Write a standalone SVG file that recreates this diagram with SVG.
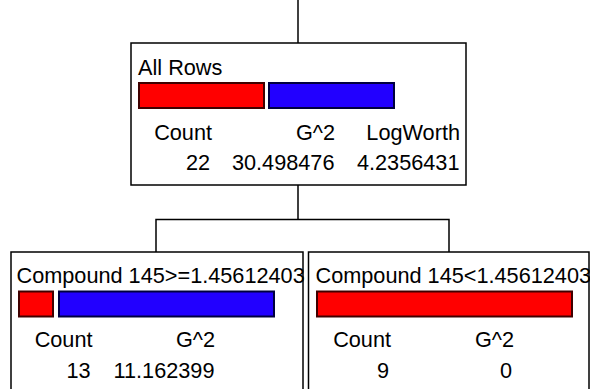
<svg xmlns="http://www.w3.org/2000/svg" width="590" height="389" viewBox="0 0 590 389">
<style>
.box{fill:#fff;stroke:#000;stroke-width:1.5}
.conn{fill:none;stroke:#000;stroke-width:1.5}
.r{fill:#ff0000;stroke:#400000;stroke-width:2}
.b{fill:#2200ff;stroke:#000040;stroke-width:2}
text{font-family:"Liberation Sans",Arial,sans-serif;font-size:21.7px;fill:#000}
.e{text-anchor:end}
</style>
<rect width="590" height="389" fill="#fff"/>
<g id="connectors">
<path class="conn" d="M298,0V43"/>
<path class="conn" d="M298,185V219.5H156V252M298,219.5H449V252"/>
</g>
<g id="root">
<rect class="box" x="131" y="43" width="335" height="142"/>
<text x="138" y="75">All Rows</text>
<rect class="r" x="139" y="83" width="125" height="25"/>
<rect class="b" x="269" y="83" width="125" height="25"/>
<text class="e" x="212" y="140">Count</text>
<text class="e" x="335" y="140">G^2</text>
<text class="e" x="460" y="140">LogWorth</text>
<text class="e" x="210" y="170">22</text>
<text class="e" x="334.5" y="170">30.498476</text>
<text class="e" x="459.5" y="170">4.2356431</text>
</g>
<g id="left">
<rect class="box" x="11" y="252" width="292" height="150"/>
<text x="16.5" y="282.5">Compound 145&gt;=1.45612403</text>
<rect class="r" x="19" y="291.5" width="34" height="25"/>
<rect class="b" x="59" y="291.5" width="215" height="25"/>
<text class="e" x="92.5" y="347">Count</text>
<text class="e" x="215" y="347">G^2</text>
<text class="e" x="90.5" y="378">13</text>
<text class="e" x="214.5" y="378">11.162399</text>
</g>
<g id="right">
<rect class="box" x="308.5" y="252" width="280.5" height="150"/>
<text x="315.5" y="282.5">Compound 145&lt;1.45612403</text>
<rect class="r" x="317" y="291.5" width="255" height="25"/>
<text class="e" x="391" y="347">Count</text>
<text class="e" x="514" y="347">G^2</text>
<text class="e" x="389" y="378">9</text>
<text class="e" x="512" y="378">0</text>
</g>
</svg>
